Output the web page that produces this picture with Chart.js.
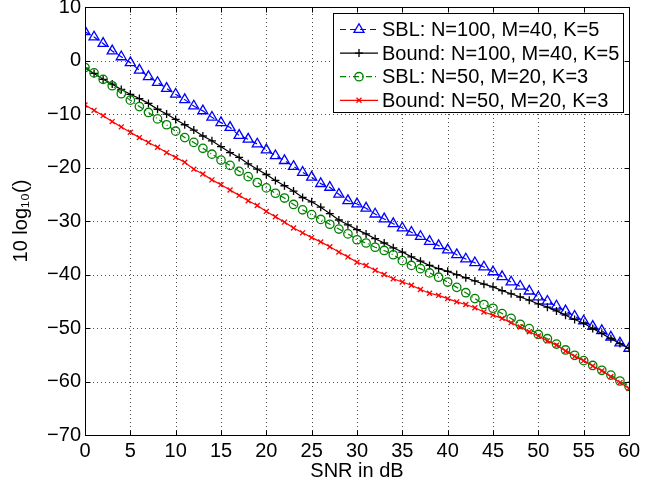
<!DOCTYPE html>
<html>
<head>
<meta charset="utf-8">
<script src="https://cdn.jsdelivr.net/npm/chart.js"></script>
<style>
  body { margin: 0; background: #fff; }
  #wrap { width: 657px; height: 484px; }
</style>
</head>
<body>
<div id="wrap"><canvas id="chart" width="657" height="484"></canvas></div>
<script>
const snrDb = [0, 1, 2, 3, 4, 5, 6, 7, 8, 9, 10, 11, 12, 13, 14, 15, 16, 17, 18, 19, 20,
  21, 22, 23, 24, 25, 26, 27, 28, 29, 30, 31, 32, 33, 34, 35, 36, 37, 38, 39, 40,
  41, 42, 43, 44, 45, 46, 47, 48, 49, 50, 51, 52, 53, 54, 55, 56, 57, 58, 59, 60];

const sbl100 = [5.4, 4.4, 3.2, 1.8, 0.7, -0.4, -1.8, -3.0, -4.1, -5.2, -6.3, -7.3, -8.5, -9.4, -10.6, -11.6,
  -12.5, -14.0, -14.7, -15.6, -16.7, -17.8, -18.7, -19.8, -20.9, -21.8, -23.0, -23.7, -25.0, -26.2, -26.8,
  -27.6, -28.7, -29.6, -30.5, -31.3, -32.1, -32.9, -33.8, -34.6, -35.4, -36.3, -37.1, -37.8, -38.6, -39.5,
  -40.4, -41.4, -42.2, -43.1, -44.2, -45.0, -45.9, -46.8, -47.8, -48.7, -49.7, -50.5, -51.7, -52.8, -53.8];

const bound100 = [-1.4, -2.4, -3.5, -4.4, -5.4, -6.3, -7.1, -8.0, -9.1, -10.0, -11.0, -12.0, -13.0, -14.1, -15.0,
  -16.1, -17.2, -18.1, -19.3, -20.3, -21.3, -22.4, -23.4, -24.4, -25.6, -26.4, -27.4, -28.6, -29.8, -30.7,
  -31.6, -32.4, -33.3, -34.1, -35.0, -35.8, -36.7, -37.5, -38.3, -38.9, -39.4, -40.0, -40.6, -41.2, -41.8,
  -42.3, -43.0, -43.6, -44.2, -44.8, -45.5, -46.1, -46.8, -47.6, -48.4, -49.1, -50.1, -51.0, -52.0, -52.9, -53.8];

const sbl50 = [-1.3, -2.3, -3.5, -4.7, -6.2, -7.4, -8.6, -9.7, -10.9, -12.0, -13.2, -14.4, -15.3, -16.4, -17.5,
  -18.6, -19.6, -20.7, -21.7, -22.8, -23.8, -24.8, -25.7, -26.9, -27.9, -28.8, -29.7, -30.6, -31.5, -32.4,
  -33.5, -34.1, -34.9, -35.5, -36.3, -37.4, -38.3, -38.9, -39.7, -40.5, -41.4, -42.4, -43.4, -44.5, -45.6,
  -46.3, -47.3, -48.2, -49.3, -50.1, -51.2, -52.0, -53.0, -54.1, -55.1, -56.1, -57.0, -57.9, -58.8, -59.9, -60.9];

const bound50 = [-8.3, -9.3, -10.3, -11.4, -12.4, -13.4, -14.4, -15.3, -16.2, -17.2, -18.1, -19.0, -20.3, -21.2,
  -22.3, -23.2, -24.2, -25.2, -26.2, -27.1, -28.2, -29.2, -30.2, -31.3, -32.2, -33.1, -33.9, -34.8, -35.8,
  -36.7, -37.7, -38.3, -39.2, -40.0, -40.8, -41.4, -42.0, -42.8, -43.5, -43.9, -44.5, -45.1, -45.6, -46.2,
  -47.0, -47.6, -48.2, -49.0, -49.8, -50.7, -51.5, -52.4, -53.2, -54.3, -55.3, -56.1, -57.1, -58.0, -59.1, -60.2, -61.3];

const seriesLabels = [
  'SBL: N=100, M=40, K=5',
  'Bound: N=100, M=40, K=5',
  'SBL: N=50, M=20, K=3',
  'Bound: N=50, M=20, K=3'
];
const xTicks = [0, 5, 10, 15, 20, 25, 30, 35, 40, 45, 50, 55, 60];
const yTicks = [-70, -60, -50, -40, -30, -20, -10, 0, 10];

const FONT = '"Liberation Sans", Arial, Helvetica, sans-serif';
const FSIZE = 20;

function pts(vals) {
  return snrDb.map((x, i) => ({ x: x, y: vals[i] }));
}

function drawMarker(ctx, style, x, y, r) {
  ctx.beginPath();
  if (style === 'triangle') {
    ctx.moveTo(x, y - r);
    ctx.lineTo(x + r * 0.866, y + r * 0.5);
    ctx.lineTo(x - r * 0.866, y + r * 0.5);
    ctx.closePath();
  } else if (style === 'circle') {
    ctx.arc(x, y, r, 0, Math.PI * 2);
  } else if (style === 'cross') {
    ctx.moveTo(x - r, y); ctx.lineTo(x + r, y);
    ctx.moveTo(x, y - r); ctx.lineTo(x, y + r);
  } else if (style === 'crossRot') {
    const d = r * 0.707;
    ctx.moveTo(x - d, y - d); ctx.lineTo(x + d, y + d);
    ctx.moveTo(x - d, y + d); ctx.lineTo(x + d, y - d);
  }
  ctx.stroke();
}

// dotted grid under the lines
const dottedGrid = {
  id: 'dottedGrid',
  beforeDatasetsDraw(chart) {
    const ctx = chart.ctx;
    const a = chart.chartArea;
    const xs = chart.scales.x, ys = chart.scales.y;
    ctx.save();
    ctx.strokeStyle = 'rgba(0,0,0,0.7)';
    ctx.lineWidth = 1;
    ctx.setLineDash([1, 3]);
    ctx.beginPath();
    xTicks.forEach(v => {
      const px = Math.round(xs.getPixelForValue(v)) + 0.5;
      ctx.moveTo(px, a.bottom); ctx.lineTo(px, a.top);
    });
    yTicks.forEach(v => {
      const py = Math.round(ys.getPixelForValue(v)) + 0.5;
      ctx.moveTo(a.left, py); ctx.lineTo(a.right, py);
    });
    ctx.stroke();
    ctx.restore();
  }
};

// box round the axes, inward ticks and the legend
const matlabFrame = {
  id: 'matlabFrame',
  afterDraw(chart) {
    const ctx = chart.ctx;
    const a = chart.chartArea;
    const xs = chart.scales.x, ys = chart.scales.y;
    ctx.save();
    ctx.strokeStyle = '#000';
    ctx.lineWidth = 1;
    ctx.setLineDash([]);
    const L = Math.round(a.left) + 0.5, R = Math.round(a.right) + 0.5;
    const T = Math.round(a.top) + 0.5, B = Math.round(a.bottom) + 0.5;
    ctx.strokeRect(L, T, R - L, B - T);
    ctx.beginPath();
    xTicks.forEach(v => {
      const px = Math.round(xs.getPixelForValue(v)) + 0.5;
      ctx.moveTo(px, B); ctx.lineTo(px, B - 5);
      ctx.moveTo(px, T); ctx.lineTo(px, T + 5);
    });
    yTicks.forEach(v => {
      const py = Math.round(ys.getPixelForValue(v)) + 0.5;
      ctx.moveTo(L, py); ctx.lineTo(L + 5, py);
      ctx.moveTo(R, py); ctx.lineTo(R - 5, py);
    });
    ctx.stroke();

    // legend
    const bx = Math.round(a.right) - 296, by = Math.round(a.top) + 6, bw = 290, bh = 99;
    ctx.fillStyle = '#fff';
    ctx.fillRect(bx, by, bw, bh);
    ctx.strokeRect(bx + 0.5, by + 0.5, bw, bh);
    ctx.font = FSIZE + 'px ' + FONT;
    ctx.textBaseline = 'middle';
    chart.data.datasets.forEach((ds, i) => {
      const ry = by + 16.5 + i * 23.6;
      ctx.strokeStyle = ds.borderColor;
      ctx.lineWidth = ds.borderWidth;
      ctx.setLineDash(ds.borderDash || []);
      ctx.beginPath();
      ctx.moveTo(bx + 7, ry); ctx.lineTo(bx + 45, ry);
      ctx.stroke();
      ctx.setLineDash([]);
      ctx.lineWidth = ds.pointBorderWidth;
      drawMarker(ctx, ds.pointStyle, bx + 26, ry, ds.pointRadius);
      ctx.fillStyle = '#000';
      ctx.fillText(ds.label, bx + 49, ry + 1);
    });
    ctx.restore();
  }
};

new Chart(document.getElementById('chart'), {
  type: 'line',
  data: {
    datasets: [
      {
        label: seriesLabels[0], data: pts(sbl100), borderColor: '#0000ff',
        borderDash: [6, 4], pointStyle: 'triangle', pointRadius: 5.8, order: 3
      },
      {
        label: seriesLabels[1], data: pts(bound100), borderColor: '#000000',
        pointStyle: 'cross', pointRadius: 4, order: 2
      },
      {
        label: seriesLabels[2], data: pts(sbl50), borderColor: '#008000',
        borderDash: [6, 3, 1, 3], pointStyle: 'circle', pointRadius: 4.2, order: 1
      },
      {
        label: seriesLabels[3], data: pts(bound50), borderColor: '#ff0000',
        pointStyle: 'crossRot', pointRadius: 3.5, order: 0
      }
    ].map(ds => Object.assign({
      borderWidth: 1.2,
      pointBorderWidth: 1.3,
      pointBorderColor: ds.borderColor,
      pointBackgroundColor: 'rgba(0,0,0,0)',
      fill: false,
      tension: 0
    }, ds))
  },
  options: {
    responsive: false,
    animation: false,
    layout: { padding: { left: 0, right: 28, top: 6, bottom: 0 } },
    plugins: { legend: { display: false }, tooltip: { enabled: false } },
    scales: {
      x: {
        type: 'linear', min: 0, max: 60,
        afterBuildTicks: s => { s.ticks = xTicks.map(v => ({ value: v })); },
        afterFit: s => { s.height = 49; s.paddingLeft = 0; s.paddingRight = 0; },
        ticks: { color: '#000', padding: 4, maxRotation: 0, font: { family: FONT, size: FSIZE } },
        grid: { display: false, drawTicks: false },
        border: { display: false },
        title: { display: true, text: 'SNR in dB', color: '#000', padding: { top: 0, bottom: 1 },
          font: { family: FONT, size: FSIZE } }
      },
      y: {
        type: 'linear', min: -70, max: 10,
        afterBuildTicks: s => { s.ticks = yTicks.map(v => ({ value: v })); },
        afterFit: s => { s.width = 85; s.paddingTop = 0; s.paddingBottom = 0; },
        ticks: { color: '#000', padding: 4, font: { family: FONT, size: FSIZE },
          callback: v => String(v).replace('-', '\u2212') },
        grid: { display: false, drawTicks: false },
        border: { display: false },
        title: { display: true, text: '10 log\u2081\u2080()', color: '#000', padding: { top: 9, bottom: 0 },
          font: { family: FONT, size: FSIZE } }
      }
    }
  },
  plugins: [dottedGrid, matlabFrame]
});
</script>
</body>
</html>
